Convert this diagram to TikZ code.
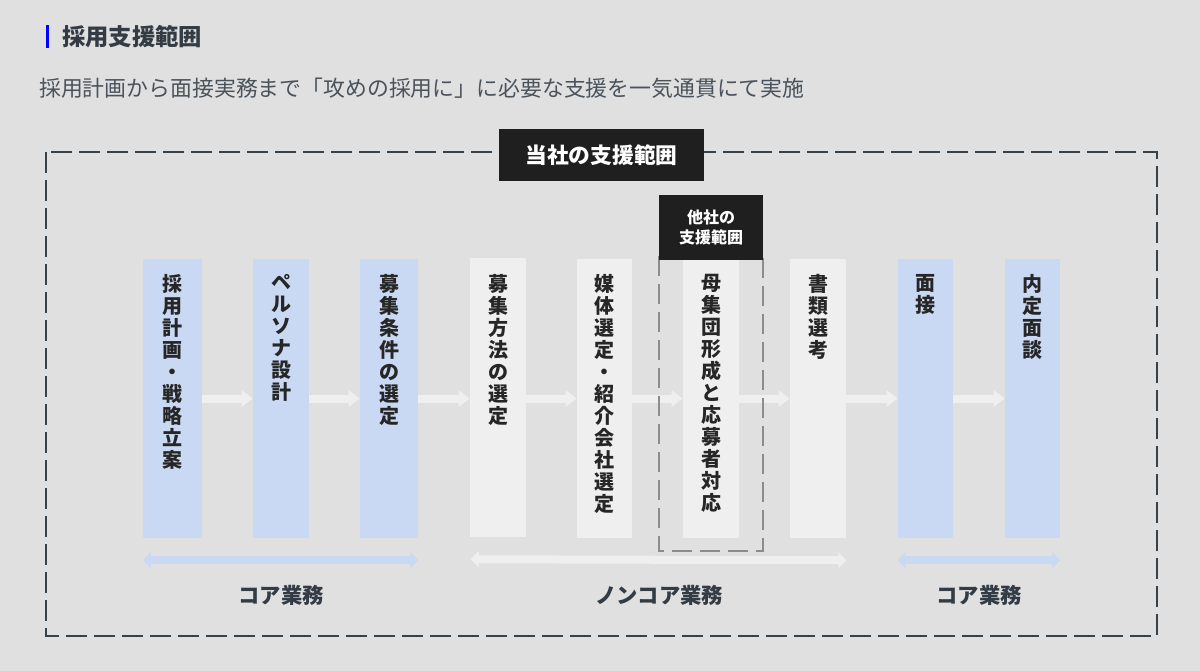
\documentclass[tikz,border=0pt]{standalone}
\usepackage{fontspec}
\setmainfont{Noto Sans CJK JP}
\usetikzlibrary{arrows.meta,calc}
\definecolor{bg}{HTML}{E0E0E0}
\definecolor{ink}{HTML}{333C44}
\definecolor{subink}{HTML}{4A535B}
\definecolor{frame}{HTML}{37424A}
\definecolor{coreblue}{HTML}{C9D9F3}
\definecolor{noncore}{HTML}{EFEFEF}
\definecolor{darkbox}{HTML}{1F1F1F}
\definecolor{otherdash}{HTML}{8C8C8C}
\definecolor{coltext}{HTML}{262626}
\begin{document}
\begin{tikzpicture}[x=0.75pt,y=-0.75pt,
  colbox/.style={draw=none,minimum width=42pt,minimum height=209.25pt,inner sep=0pt},
  core/.style={colbox,fill=coreblue},
  noncorebox/.style={colbox,fill=noncore},
  vtext/.style={anchor=north,inner sep=0pt,align=center,text=coltext,
    font=\fontsize{15pt}{16.5pt}\selectfont\bfseries},
  flow/.style={draw=noncore,line width=6pt,-{Triangle[length=8.25pt,width=12pt]}},
  spanblue/.style={draw=coreblue,line width=6pt,{Triangle[length=6pt,width=12pt]}-{Triangle[length=6pt,width=12pt]}},
  spangray/.style={draw=noncore,line width=6pt,{Triangle[length=6pt,width=12pt]}-{Triangle[length=6pt,width=12pt]}},
  grouplabel/.style={text=ink,font=\fontsize{16pt}{18pt}\selectfont\bfseries,inner sep=0pt},
  blackbox/.style={fill=darkbox,text=white,inner sep=0pt,align=center}
]
\useasboundingbox (0,0) rectangle (1200,671);
\fill[bg] (0,0) rectangle (1200,671);

% title
\fill[blue] (46,25) rectangle (49,48);
\node[anchor=west,inner sep=0pt,text=ink,font=\fontsize{17.5pt}{20pt}\selectfont\bfseries] (title) at (62,37) {採用支援範囲};
\node[anchor=west,inner sep=0pt,text=subink,font=\fontsize{16.4pt}{20pt}\selectfont] (subtitle) at (39,88) {採用計画から面接実務まで「攻めの採用に」に必要な支援を一気通貫にて実施};

% outer dashed frame
\draw[frame,line width=1.9pt,dash pattern=on 15.75pt off 5.25pt] (46,152) rectangle (1157,636);

% columns
\node[core,minimum width=44pt] (c1) at (172.5,398.5) {};
\node[core] (c2) at (281,398.5) {};
\node[core,minimum width=43.5pt] (c3) at (389,398.5) {};
\node[noncorebox] (c4) at (498,397.5) {};
\node[noncorebox,minimum width=41.25pt] (c5) at (604.5,398.5) {};
\node[noncorebox] (c6) at (711,398.5) {};
\node[noncorebox] (c7) at (818,398.5) {};
\node[core,minimum width=41.25pt] (c8) at (925.5,398.5) {};
\node[core,minimum width=41.25pt] (c9) at (1032.5,398.5) {};

\node[vtext] (t1) at (172.5,274) {採\\用\\計\\画\\・\\戦\\略\\立\\案};
\node[vtext] (t2) at (281,274) {ペ\\ル\\ソ\\ナ\\設\\計};
\node[vtext] (t3) at (389,274) {募\\集\\条\\件\\の\\選\\定};
\node[vtext] (t4) at (498,274) {募\\集\\方\\法\\の\\選\\定};
\node[vtext] (t5) at (604.5,274) {媒\\体\\選\\定\\・\\紹\\介\\会\\社\\選\\定};
\node[vtext] (t6) at (711,274) {母\\集\\団\\形\\成\\と\\応\\募\\者\\対\\応};
\node[vtext] (t7) at (818,274) {書\\類\\選\\考};
\node[vtext] (t8) at (925.5,274) {面\\接};
\node[vtext] (t9) at (1032.5,274) {内\\定\\面\\談};

% flow arrows
\draw[flow] (c1.east) -- (c2.west);
\draw[flow] (c2.east) -- (c3.west);
\draw[flow] (c3.east) -- (c4.west |- c3.east);
\draw[flow] (c4.east |- c5.west) -- (c5.west);
\draw[flow] (c5.east) -- (c6.west);
\draw[flow] (c6.east) -- (c7.west);
\draw[flow] (c7.east) -- (c8.west);
\draw[flow] (c8.east) -- (c9.west);

% span arrows
\draw[spanblue] ($(c1.south west)+(0,22)$) -- ($(c3.south east)+(0,22)$);
\draw[spangray] ($(c4.south west)+(1,22)$) -- ($(c7.south east)+(0,22)$);
\draw[spanblue] ($(c8.south west)+(0,22)$) -- ($(c9.south east)+(0,22)$);

\node[grouplabel] (g1) at (281,595) {コア業務};
\node[grouplabel] (g2) at (659,595) {ノンコア業務};
\node[grouplabel] (g3) at (979,595) {コア業務};

% other company's scope
\draw[otherdash,line width=1.5pt,dash pattern=on 15pt off 6pt] (659,256) -- (659,551) -- (763,551) -- (763,256);
\node[blackbox,minimum width=78pt,minimum height=48.75pt,font=\fontsize{12pt}{15pt}\selectfont\bfseries] (other) at (711,227.5) {他社の\\支援範囲};

% our scope
\node[blackbox,minimum width=153.75pt,minimum height=39pt,font=\fontsize{16.3pt}{18pt}\selectfont\bfseries] (ours) at (601.5,155) {当社の支援範囲};
\end{tikzpicture}
\end{document}
